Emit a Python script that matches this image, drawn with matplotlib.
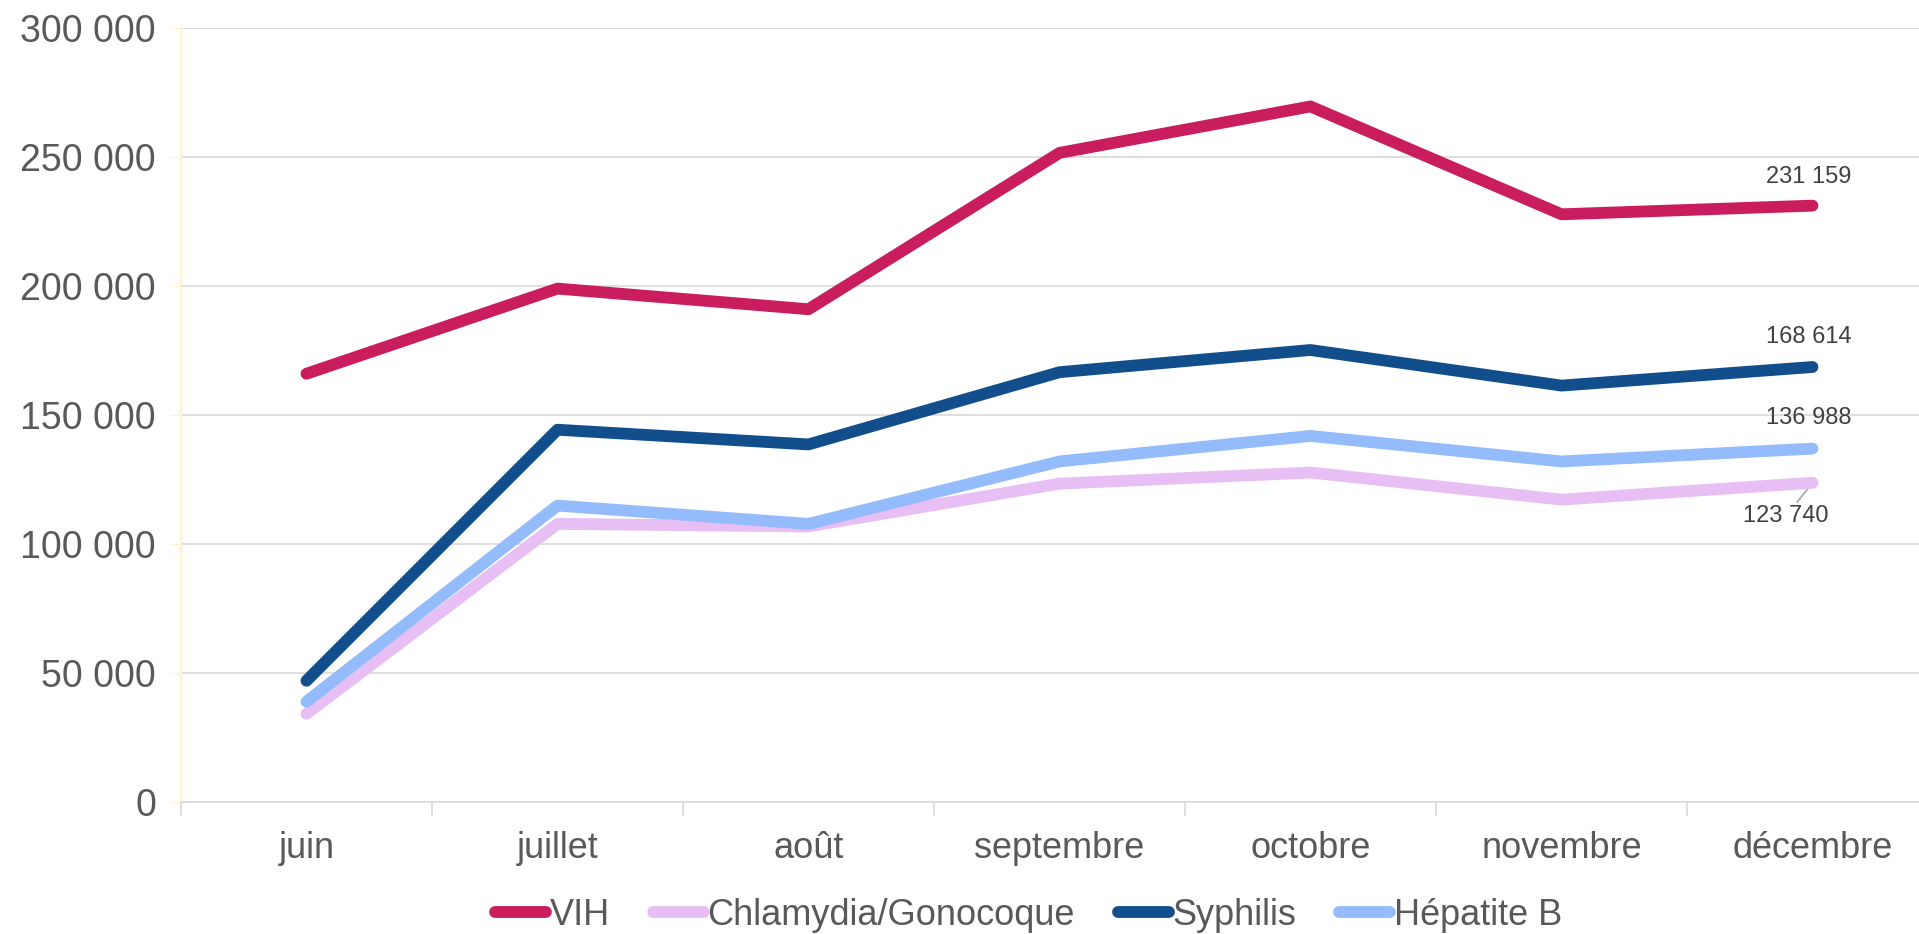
import matplotlib.pyplot as plt
from matplotlib.ticker import FuncFormatter, FixedLocator

plt.rcParams['font.family'] = ['Liberation Sans', 'DejaVu Sans']

# Data
mois = ["juin", "juillet", "août", "septembre", "octobre", "novembre", "décembre"]
vih = [166000, 199000, 191000, 251600, 269600, 227800, 231159]
chlamydia = [34200, 107800, 106800, 123400, 127700, 117200, 123740]
syphilis = [47000, 144300, 138600, 166600, 175200, 161400, 168614]
hepatite_b = [38900, 114900, 107800, 132000, 141900, 132000, 136988]

series = [
    ("VIH", vih, "#C91D5E"),
    ("Chlamydia/Gonocoque", chlamydia, "#E8BFF5"),
    ("Syphilis", syphilis, "#124E8C"),
    ("Hépatite B", hepatite_b, "#94BBFC"),
]

text_col = "#595959"
fig = plt.figure(figsize=(19.19, 9.34), dpi=100)
ax = fig.add_axes([0.0943, 0.1413, 0.9156, 0.8287])

x = list(range(len(mois)))
# draw order: Chlamydia, Hépatite B, Syphilis, VIH on top
for idx in [1, 3, 2, 0]:
    name, vals, col = series[idx]
    ax.plot(x, vals, color=col, lw=8.5, solid_capstyle="round",
            solid_joinstyle="round", label=name, zorder=3 + idx)

ax.set_xlim(-0.5, len(mois) - 0.5)
ax.set_ylim(0, 300000)
ax.set_yticks(range(0, 300001, 50000))
ax.yaxis.set_major_formatter(FuncFormatter(lambda v, p: f"{v:,.0f}".replace(",", " ")))
ax.grid(axis="y", color="#D9D9D9", lw=1.2)
ax.set_axisbelow(True)

ax.set_xticks(x)
ax.set_xticklabels(mois)
ax.xaxis.set_minor_locator(FixedLocator([i - 0.5 for i in range(len(mois) + 1)]))
ax.tick_params(axis="x", which="major", length=0, pad=21, labelsize=26, labelcolor=text_col)
ax.tick_params(axis="x", which="minor", length=10, color="#D9D9D9", width=1.2)
ax.tick_params(axis="y", length=8, color="#FFF2CC", labelsize=27, labelcolor=text_col, pad=10)

for s in ["top", "right"]:
    ax.spines[s].set_visible(False)
ax.spines["left"].set_color("#FFF2CC")
ax.spines["left"].set_linewidth(1.5)
ax.spines["bottom"].set_color("#D9D9D9")
ax.spines["bottom"].set_linewidth(1.2)

# data labels on the last point
last = len(mois) - 1
fmt = lambda v: f"{v:,}".replace(",", " ")
lbl_kw = dict(fontsize=17, color="#404040", ha="center", textcoords="offset points")
ax.annotate(fmt(vih[-1]), (last, vih[-1]), xytext=(-3, 13), va="bottom", **lbl_kw)
ax.annotate(fmt(syphilis[-1]), (last, syphilis[-1]), xytext=(-3, 14), va="bottom", **lbl_kw)
ax.annotate(fmt(hepatite_b[-1]), (last, hepatite_b[-1]), xytext=(-3, 14), va="bottom", **lbl_kw)
ax.annotate(fmt(chlamydia[-1]), (last, chlamydia[-1]), xytext=(-19, -16), va="top",
            arrowprops=dict(arrowstyle="-", color="#A6A6A6", lw=1.2, shrinkA=0, shrinkB=3),
            **lbl_kw)

handles, labels = ax.get_legend_handles_labels()
order = [labels.index(s[0]) for s in series]
leg = fig.legend([handles[i] for i in order], [labels[i] for i in order],
                 loc="center", bbox_to_anchor=(0.536, 0.02), ncol=4, frameon=False,
                 handlelength=1.4, handletextpad=0.1, columnspacing=1.2,
                 prop={"size": 26})
for t in leg.get_texts():
    t.set_color(text_col)

fig.savefig("out.png", dpi=100)
